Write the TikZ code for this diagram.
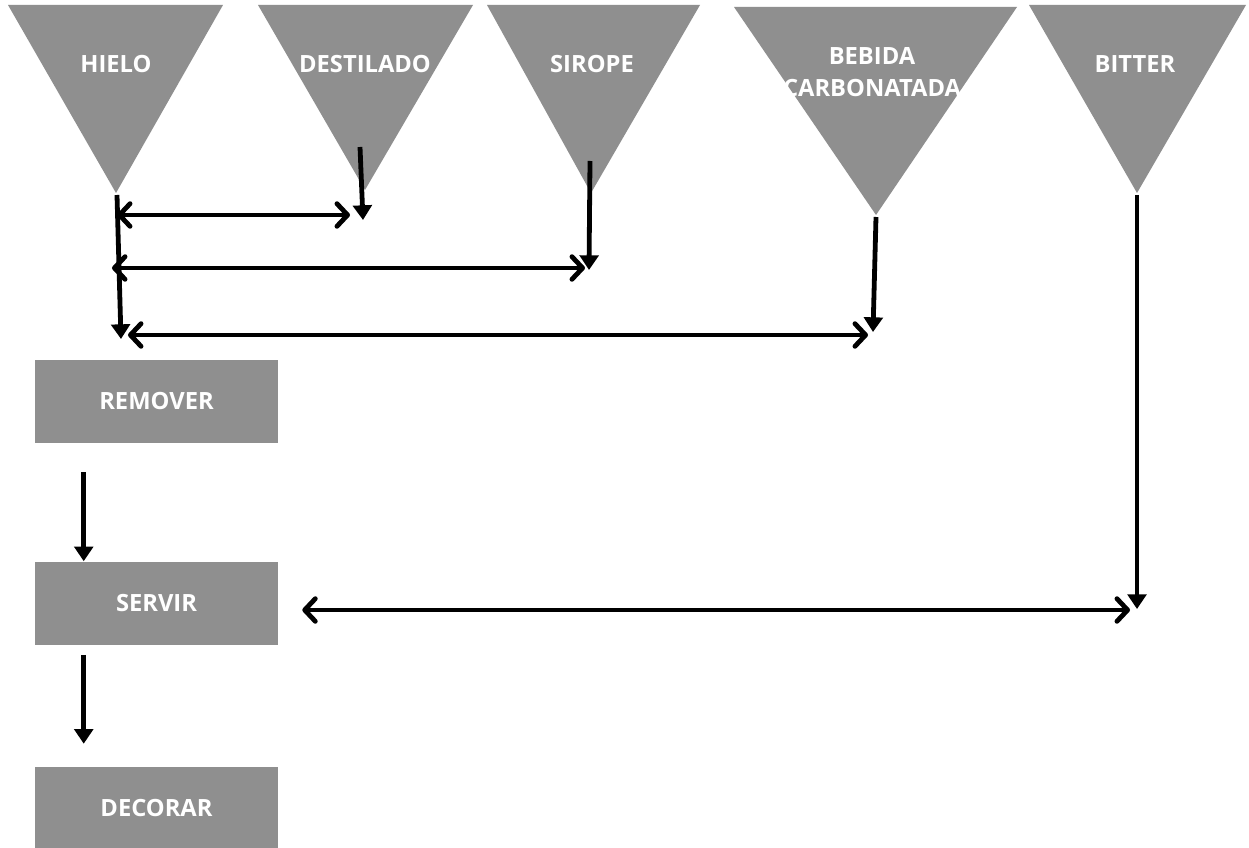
\documentclass[tikz,border=0pt]{standalone}
\usepackage{fontspec}
\setmainfont{Open Sans}
\usetikzlibrary{arrows.meta,calc}
\definecolor{boxgray}{HTML}{8F8F8F}
\tikzset{
  tri/.style={fill=boxgray, draw=none},
  lbl/.style={text=white, font=\bfseries\fontsize{17.8}{24}\selectfont, align=center, inner sep=0pt},
  stepbox/.style={fill=boxgray, draw=none, minimum width=182.25pt, minimum height=62.25pt, inner sep=0pt,
    text=white, font=\bfseries\fontsize{17.8}{24}\selectfont},
  down/.style={line width=3.6pt, -{Triangle[length=11pt,width=14pt]}},
  both/.style={line width=3.6pt, {Straight Barb[length=8pt,width=17pt,round]}-{Straight Barb[length=8pt,width=17pt,round]}}
}
\begin{document}
\begin{tikzpicture}[x=0.75pt,y=-0.75pt]
\clip (0,0) rectangle (1249,848);
\fill[white] (0,0) rectangle (1249,848);
% inverted triangles
\fill[tri] (8,5) -- (223,5) -- (116,193) -- cycle;
\fill[tri] (258,5) -- (473,5) -- (365,190) -- cycle;
\fill[tri] (487,5) -- (700,5) -- (591,193) -- cycle;
\fill[tri] (734,7) -- (1017,7) -- (876,215) -- cycle;
\fill[tri] (1029,5) -- (1246,5) -- (1137,193) -- cycle;
\node[lbl] (hielo) at (116,64) {HIELO};
\node[lbl] (destilado) at (365,64) {DESTILADO};
\node[lbl] (sirope) at (592,64) {SIROPE};
\node[lbl] (bebida) at (872,72) {BEBIDA\\CARBONATADA};
\node[lbl] (bitter) at (1135,64) {BITTER};
% boxes
\node[stepbox] (remover) at (156.5,401.5) {REMOVER};
\node[stepbox] (servir) at (156.5,603) {SERVIR};
\node[stepbox] (decorar) at (156.5,808.5) {DECORAR};
% connector points
\coordinate (hTop) at (117,195);
\coordinate (hEnd) at (121,339);
\coordinate (dTop) at (360,147);
\coordinate (dEnd) at (363,220);
\coordinate (sTop) at (590,161);
\coordinate (sEnd) at (589,270);
\coordinate (bTop) at (876,217);
\coordinate (bEnd) at (873,332);
\coordinate (tTop) at (1137,195);
\coordinate (tEnd) at (1137,609);
% vertical arrows
\draw[down] (hTop) -- (hEnd);
\draw[down] (dTop) -- (dEnd);
\draw[down] (sTop) -- (sEnd);
\draw[down] (bTop) -- (bEnd);
\draw[down] (tTop) -- (tEnd);
% double arrows
\draw[both] (117,215) -- (350,215);
\draw[both] (112,268) -- (585,268);
\draw[both] (128,335) -- (868,335);
\draw[both] ($(servir.east)+(24,7)$) -- (1130,610);
% flow between boxes
\draw[down] ($(remover.south west)+(49,29)$) -- ($(servir.north west)+(49,0)$);
\draw[down] ($(servir.south west)+(49,10)$) -- ($(decorar.north west)+(49,-23)$);
\end{tikzpicture}
\end{document}
